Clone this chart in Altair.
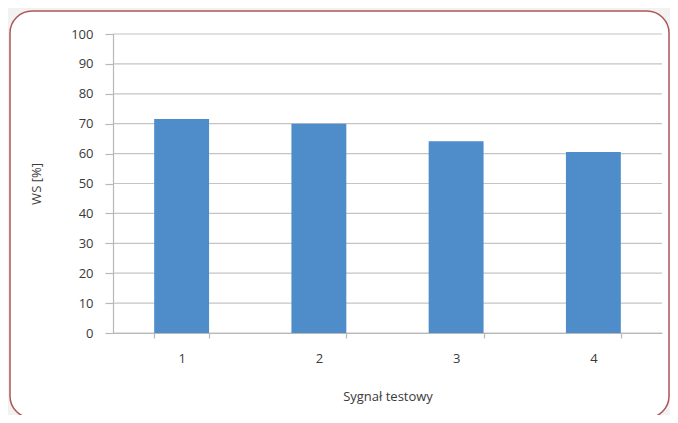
import altair as alt
import pandas as pd

categories = ["1", "2", "3", "4"]
values = [71.6, 70.0, 64.1, 60.5]
grid_values = [0, 10, 20, 30, 40, 50, 60, 70, 80, 90, 100]

df = pd.DataFrame({"cat": categories, "val": values})
grid_df = pd.DataFrame({"g": grid_values})
frame_df = pd.DataFrame({"a": [0]})

FONT = "Open Sans"
W, H = 549, 299

y_axis = alt.Axis(title="WS [%]", values=grid_values, tickSize=8,
                  labelPadding=12, grid=False, titleX=-77, titleY=H / 2,
                  titleBaseline="middle", titleAngle=-90, zindex=1)
y_scale = alt.Scale(domain=[0, 100])

frame = alt.Chart(frame_df).mark_rect(
    fill="white", stroke="#b05656", strokeWidth=1.5, cornerRadius=22
).encode(
    x=alt.value(-103), x2=alt.value(556),
    y=alt.value(-23), y2=alt.value(384),
)

grid = alt.Chart(grid_df).mark_rule(color="#c4c4c4", strokeWidth=1.2).encode(
    y=alt.Y("g:Q", scale=y_scale, axis=y_axis),
    x=alt.value(0), x2=alt.value(W),
)

bars = alt.Chart(df).mark_bar(color="#4f8dca").encode(
    x=alt.X("cat:N", sort=categories,
            scale=alt.Scale(paddingInner=0.6, paddingOuter=0.3),
            axis=alt.Axis(title="Sygnał testowy", labelAngle=0, tickBand="extent",
                          tickSize=5, labelPadding=14, titleX=W / 2, titleY=63,
                          titleBaseline="middle", titleAnchor="middle", zindex=1)),
    y=alt.Y("val:Q", scale=y_scale, axis=y_axis),
)

chart = alt.layer(frame, grid, bars).resolve_axis(y="shared").properties(
    width=W, height=H, background="#f2f2f2",
    autosize=alt.AutoSizeParams(type="none"),
    padding={"left": 105, "top": 26, "right": 8, "bottom": 82},
).configure_axis(
    domainColor="#b8b8b8", tickColor="#b8b8b8", domainWidth=1.2, tickWidth=1.2,
    labelFont=FONT, titleFont=FONT, labelFontSize=13, titleFontSize=13,
    labelColor="#3a3a3a", titleColor="#3a3a3a", titleFontWeight="normal",
).configure_view(stroke=None)

chart.save("out.html", embed_options={"renderer": "svg", "actions": False})
